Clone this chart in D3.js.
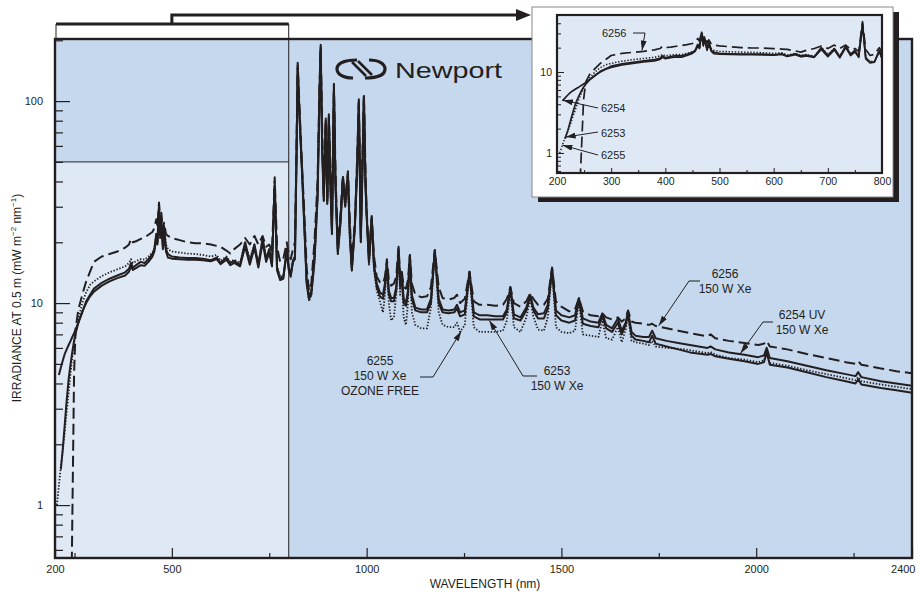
<!DOCTYPE html>
<html>
<head>
<meta charset="utf-8">
<script src="https://cdn.jsdelivr.net/npm/d3@7"></script>
<style>
  body { margin: 0; background: #fff; }
  svg text { font-family: "Liberation Sans", Arial, sans-serif; fill: #231f20; }
</style>
</head>
<body>
<div id="chart"></div>
<script>
// Spectral irradiance (mW m^-2 nm^-1 at 0.5 m)
const wavelengths = [
  205, 210, 215, 220, 225, 230, 235, 240, 243, 246,
  249, 253, 260, 270, 280, 290, 300, 320, 340, 360,
  380, 390, 395, 400, 410, 420, 430, 440, 450, 455,
  460, 463, 467, 470, 473, 477, 480, 485, 490, 500,
  520, 540, 560, 580, 600, 615, 625, 640, 650, 660,
  675, 688, 700, 712, 722, 733, 742, 750, 757, 764,
  770, 778, 786, 795, 800, 805, 811, 816, 820, 823,
  828, 834, 840, 846, 852, 858, 866, 874, 879, 882,
  886, 890, 895, 899, 903, 907, 911, 916, 920, 926,
  933, 939, 945, 952, 957, 962, 970, 976, 980, 985,
  989, 993, 997, 1000, 1006, 1013, 1019, 1026, 1034, 1042,
  1047, 1052, 1057, 1063, 1070, 1076, 1082, 1086, 1090, 1095,
  1101, 1106, 1111, 1116, 1125, 1140, 1155, 1165, 1175, 1185,
  1195, 1210, 1225, 1232, 1240, 1252, 1264, 1275, 1290, 1310,
  1330, 1350, 1360, 1369, 1378, 1395, 1410, 1420, 1428, 1440,
  1455, 1465, 1476, 1486, 1500, 1520, 1535, 1545, 1555, 1575,
  1595, 1605, 1615, 1630, 1645, 1655, 1665, 1671, 1680, 1690,
  1710, 1725, 1733, 1742, 1770, 1800, 1830, 1875, 1883, 1895,
  1930, 1970, 2005, 2020, 2027, 2035, 2080, 2130, 2180, 2230,
  2255, 2262, 2270, 2320, 2360, 2400
];

const lamp6256 = [
  null, null, null, null, null, null, null, 0.3, 0.5, 1.5,
  4.5, 7.5, 9.3, 11.0, 12.8, 14.3, 16.0, 17.0, 17.5, 18.0,
  18.8, 19.5, 20.8, 20.0, 20.3, 20.8, 21.2, 21.8, 22.5, 23.5,
  26, 24, 31.5, 25, 28, 23, 25, 22, 21.5, 21.0,
  20.5, 20.0, 19.8, 19.8, 19.5, 19.2, 19.0, 18.2, 17.6, 18.5,
  19.5, 21.0, 19.5, 21.5, 19.5, 21.5, 19.0, 19.5, 18.0, 42,
  19.0, 16.0, 16.5, 20.0, 17.5, 16.5, 18.5, 20, 60, 155,
  90, 48, 28, 15, 11.5, 12.5, 20, 40, 120, 190,
  70, 35, 82, 33, 86, 45, 24, 122, 45, 19,
  28, 43, 32, 45, 25, 15.5, 26, 55, 102, 22,
  50, 108, 45, 29, 17, 27, 17, 13.5, 12.7, 12.5,
  13.5, 16.5, 13, 12.2, 12.5, 13.5, 19, 13.5, 14.5, 12,
  11.8, 13, 17.3, 12.5, 11, 10.7, 10.8, 12, 18.3, 12,
  10.6, 10.4, 10.6, 11, 10, 10.5, 14.3, 10.2, 9.8, 9.8,
  9.7, 9.8, 10.5, 12.0, 10.0, 9.6, 10.2, 11.2, 10.5, 9.8,
  9.8, 10.5, 15.0, 10.2, 9.6, 9.1, 9.3, 10.6, 9.1, 8.7,
  8.6, 8.9, 8.5, 8.3, 8.5, 8.1, 8.4, 9.2, 8.1, 8.0,
  7.9, 7.8, 7.9, 7.7, 7.5, 7.3, 7.1, 6.85, 7.0, 6.7,
  6.5, 6.35, 6.2, 6.3, 6.5, 6.1, 5.9, 5.6, 5.35, 5.1,
  5.0, 5.15, 4.95, 4.75, 4.6, 4.5
];

const lamp6254 = [
  null, 4.4, 4.8, 5.2, 5.6, 5.9, 6.2, 6.5, 6.7, 6.9,
  7.1, 7.4, 8.0, 9.0, 10.2, 11.0, 11.8, 12.6, 13.2, 13.7,
  14.2, 14.8, 15.8, 15.0, 15.5, 16.0, 15.8, 16.5, 17.5, 18.5,
  22, 20, 31, 22, 26, 19, 24, 18.5, 17.5, 17.0,
  16.8, 16.7, 16.7, 16.6, 16.3, 16.8, 15.8, 16.8, 15.8, 16.2,
  15.4, 20.0, 16.0, 19.5, 15.4, 21.0, 16.5, 18.5, 15.5, 40,
  15.0, 13.2, 13.4, 18.5, 15.0, 13.8, 16.3, 17, 55, 150,
  85, 47, 25, 13, 10.7, 11.5, 17, 35, 110, 185,
  60, 33.5, 80, 32, 84, 40, 23, 120, 40, 18.3,
  26, 42, 32, 44, 22, 14.9, 25, 50, 100, 21,
  45, 106, 40, 28, 16.3, 26.6, 15.5, 12.5, 11.3, 11.0,
  12.5, 15.8, 11.5, 10.6, 10.6, 12, 18.7, 12.5, 14.3, 10.5,
  10, 11.5, 17.3, 11, 9.5, 9.3, 9.3, 10.5, 18.3, 10.5,
  9.3, 9.2, 9.3, 9.8, 9, 9.2, 14.3, 9, 8.7, 8.7,
  8.6, 8.6, 9.3, 12.0, 8.8, 8.5, 9.5, 11.0, 9.5, 8.8,
  8.9, 9.8, 14.9, 9.2, 8.7, 8.5, 8.7, 10.6, 8.4, 8.1,
  8.0, 8.9, 7.8, 7.5, 8.4, 7.3, 8.0, 9.1, 7.2, 6.9,
  6.8, 6.8, 7.3, 6.7, 6.5, 6.35, 6.2, 6.0, 6.1, 5.9,
  5.7, 5.55, 5.4, 5.5, 6.0, 5.35, 5.15, 4.9, 4.65, 4.45,
  4.35, 4.55, 4.3, 4.1, 4.0, 3.9
];

const lamp6253 = [
  null, null, 1.5, 1.9, 2.5, 3.3, 4.2, 5.0, 5.5, 6.0,
  6.5, 7.1, 8.0, 9.1, 10.0, 10.8, 11.4, 12.2, 12.8, 13.3,
  13.7, 14.3, 15.2, 14.6, 15.0, 15.4, 15.3, 16.0, 17.0, 18.0,
  21, 19.5, 30, 21, 25, 18.5, 22, 18, 16.8, 16.6,
  16.5, 16.4, 16.4, 16.3, 16.1, 16.5, 15.6, 16.4, 15.4, 15.8,
  15.2, 19.0, 15.5, 18.8, 15.0, 20.0, 16.0, 17.8, 15.2, 38,
  14.5, 13.0, 13.2, 18.0, 14.6, 13.5, 16.0, 16.5, 52, 145,
  80, 45, 24, 12.5, 10.5, 11, 16, 33, 105, 180,
  55, 32, 78, 31, 82, 38, 22, 115, 38, 17.5,
  25, 40, 30, 42, 21, 14.5, 24, 48, 98, 20,
  43, 104, 38, 27, 15.8, 26, 15, 12, 10.8, 10.5,
  12, 15.5, 11, 10.2, 10.2, 11.5, 18.3, 12, 14, 10,
  9.7, 11, 17, 10.5, 9.2, 9.0, 9.0, 10, 18, 10,
  9.0, 8.9, 9.0, 9.4, 8.6, 8.8, 14, 8.6, 8.3, 8.3,
  8.3, 8.3, 9.0, 11.8, 8.4, 8.2, 9.2, 10.8, 9.2, 8.4,
  8.4, 9.4, 14.6, 8.7, 8.2, 8.0, 8.2, 10.4, 7.9, 7.7,
  7.6, 8.6, 7.5, 7.2, 8.0, 7.0, 7.8, 8.9, 6.9, 6.6,
  6.5, 6.4, 6.9, 6.3, 6.1, 5.9, 5.7, 5.55, 5.6, 5.45,
  5.3, 5.15, 5.0, 5.1, 5.7, 4.95, 4.8, 4.55, 4.3, 4.1,
  4.0, 4.2, 3.95, 3.8, 3.7, 3.6
];

const lamp6255 = [
  1.0, 1.25, 1.55, 1.85, 2.3, 2.9, 3.6, 4.5, 5.1, 5.7,
  6.3, 7.1, 8.4, 10.0, 11.3, 12.3, 12.8, 13.6, 14.2, 14.7,
  15.2, 15.8, 16.5, 15.8, 16.2, 16.5, 16.4, 17.0, 17.8, 18.5,
  22, 20, 29, 22, 25, 20, 23, 19.5, 18.5, 18.0,
  17.8, 17.6, 17.5, 17.3, 17.0, 17.3, 16.2, 17.0, 16.0, 16.4,
  15.8, 20.0, 16.5, 19.5, 15.8, 20.5, 16.8, 18.5, 16.0, 38,
  15.2, 13.5, 13.6, 18.0, 15.2, 14.0, 16.0, 17, 52, 145,
  80, 45, 24, 12.5, 10.2, 11, 16, 33, 105, 180,
  55, 32, 78, 31, 82, 38, 22, 115, 38, 17.5,
  25, 40, 30, 42, 21, 14.5, 24, 48, 98, 20,
  43, 104, 38, 27, 15.5, 25, 14.5, 11.5, 10.2, 9.0,
  11, 15, 10, 8.2, 8.5, 11, 18, 11, 13.5, 8.5,
  7.8, 10, 16.5, 9, 7.8, 7.5, 7.5, 9.5, 17.5, 9,
  7.8, 7.6, 7.6, 8.0, 7.2, 7.8, 14, 7.6, 7.2, 7.2,
  7.2, 7.3, 8.2, 11.5, 7.6, 7.2, 8.5, 10.5, 8.6, 7.4,
  7.3, 8.5, 14.5, 7.6, 7.2, 7.1, 7.3, 10.2, 7.0, 6.9,
  6.8, 8.2, 6.7, 6.6, 7.6, 6.4, 7.4, 8.6, 6.5, 6.4,
  6.3, 6.2, 6.5, 6.1, 6.0, 5.95, 5.85, 5.65, 5.72, 5.55,
  5.35, 5.25, 5.1, 5.2, 5.7, 5.05, 4.9, 4.65, 4.45, 4.25,
  4.15, 4.3, 4.1, 3.95, 3.85, 3.75
];

const seriesNames = ["6256", "6254", "6253", "6255"];
const seriesValues = [lamp6256, lamp6254, lamp6253, lamp6255];

const xTickLabels = [200, 500, 1000, 1500, 2000, 2400];
const xMinorTicks = [250, 750, 1250, 1750, 2250];
const yTickLabels = [1, 10, 100];
const yMinorTicks = [0.6, 0.7, 0.8, 0.9, 2, 3, 4, 5, 6, 7, 8, 9, 20, 30, 40, 50, 60, 70, 80, 90, 200];

const insetXTicks = [200, 300, 400, 500, 600, 700, 800];
const insetXMinor = [250, 350, 450, 550, 650, 750];
const insetYTicks = [1, 10];
const insetYMinor = [0.6, 0.7, 0.8, 0.9, 2, 3, 4, 5, 6, 7, 8, 9, 20, 30, 40];

// zoomed region shown in the inset
const zoomRange = [200, 800];
const zoomTop = 50;

const ink = "#231f20";
const darkBlue = "#c6d8ee";
const lightBlue = "#dfe9f6";
const styles = {
  "6256": { dash: "11,5", width: 2.0 },
  "6254": { dash: null, width: 2.0 },
  "6253": { dash: null, width: 2.0 },
  "6255": { dash: "1.4,1.7", width: 1.8 }
};

const width = 920, height = 598;
const svg = d3.select("#chart").append("svg")
  .attr("width", width)
  .attr("height", height);

const defs = svg.append("defs");
defs.append("marker")
  .attr("id", "tip")
  .attr("viewBox", "0 0 10 6")
  .attr("refX", 10).attr("refY", 3)
  .attr("markerWidth", 10).attr("markerHeight", 6)
  .attr("markerUnits", "userSpaceOnUse")
  .attr("orient", "auto")
  .append("path").attr("d", "M0,0L10,3L0,6Z").attr("fill", ink);

// interpolate a series in log space (matches the drawn line)
function valueAt(vals, nm) {
  const i = d3.bisectLeft(wavelengths, nm);
  if (wavelengths[i] === nm) return vals[i];
  const t = (nm - wavelengths[i - 1]) / (wavelengths[i] - wavelengths[i - 1]);
  return Math.exp(Math.log(vals[i - 1]) * (1 - t) + Math.log(vals[i]) * t);
}

function drawPanel(g, x, y, clipId, scaleW) {
  const [x0, x1] = x.range();
  const [y0, y1] = y.range();
  defs.append("clipPath").attr("id", clipId)
    .append("rect").attr("x", x0).attr("y", y1).attr("width", x1 - x0).attr("height", y0 - y1);
  const lines = g.append("g").attr("clip-path", `url(#${clipId})`);
  seriesNames.forEach((name, k) => {
    const vals = seriesValues[k];
    const line = d3.line()
      .defined(i => vals[i] != null)
      .x(i => x(wavelengths[i]))
      .y(i => y(vals[i]));
    lines.append("path")
      .datum(d3.range(wavelengths.length))
      .attr("fill", "none")
      .attr("stroke", ink)
      .attr("stroke-width", styles[name].width * scaleW)
      .attr("stroke-linejoin", "round")
      .attr("stroke-dasharray", styles[name].dash)
      .attr("d", line);
  });
}

// ---------- main chart ----------
const x = d3.scaleLinear().domain([200, 2400]).range([55, 912]);
const y = d3.scaleLog().domain([0.547, 203]).range([558, 39]);

const main = svg.append("g");
main.append("rect")
  .attr("x", x(200)).attr("y", y.range()[1])
  .attr("width", x(2400) - x(200)).attr("height", y.range()[0] - y.range()[1])
  .attr("fill", darkBlue);
main.append("rect")
  .attr("x", x(zoomRange[0])).attr("y", y(zoomTop))
  .attr("width", x(zoomRange[1]) - x(zoomRange[0])).attr("height", y.range()[0] - y(zoomTop))
  .attr("fill", lightBlue);
main.append("path")
  .attr("d", `M${x(zoomRange[0])},${y(zoomTop)}H${x(zoomRange[1])}V${y.range()[0]}`)
  .attr("fill", "none").attr("stroke", ink).attr("stroke-width", 1);

drawPanel(main, x, y, "clip-main", 1);

// axes
main.append("g").attr("transform", `translate(${x(200)},0)`)
  .call(d3.axisLeft(y).tickValues(yTickLabels).tickFormat(d3.format("d"))
    .tickSizeInner(-15).tickSizeOuter(0).tickPadding(12));
main.append("g").attr("transform", `translate(${x(200)},0)`)
  .call(d3.axisLeft(y).tickValues(yMinorTicks).tickFormat("")
    .tickSizeInner(-8).tickSizeOuter(0));
const xAxis = main.append("g").attr("transform", `translate(0,${y.range()[0]})`)
  .call(d3.axisBottom(x).tickValues(xTickLabels).tickFormat(d3.format("d"))
    .tickSizeInner(-10).tickSizeOuter(0).tickPadding(7));
main.append("g").attr("transform", `translate(0,${y.range()[0]})`)
  .call(d3.axisBottom(x).tickValues(xMinorTicks).tickFormat("")
    .tickSizeInner(-5).tickSizeOuter(0));
main.selectAll(".domain").remove();
main.selectAll(".tick line").attr("stroke", ink).attr("stroke-width", 1.2);
main.selectAll(".tick text").style("font-size", "11px").attr("fill", ink);
xAxis.selectAll(".tick").filter(d => d === 2400).select("text").attr("text-anchor", "end").attr("x", 3);

main.append("rect")
  .attr("x", x(200)).attr("y", y.range()[1])
  .attr("width", x(2400) - x(200)).attr("height", y.range()[0] - y.range()[1])
  .attr("fill", "none").attr("stroke", ink).attr("stroke-width", 2.4);

svg.append("text")
  .attr("x", 485).attr("y", 588)
  .attr("text-anchor", "middle")
  .style("font-size", "12px")
  .text("WAVELENGTH (nm)");

const yTitle = svg.append("text")
  .attr("transform", "translate(21,298) rotate(-90)")
  .attr("text-anchor", "middle")
  .style("font-size", "12px");
yTitle.append("tspan").text("IRRADIANCE AT 0.5 m (mW m");
yTitle.append("tspan").attr("dy", -5).style("font-size", "8px").text("−2");
yTitle.append("tspan").attr("dy", 5).text(" nm");
yTitle.append("tspan").attr("dy", -5).style("font-size", "8px").text("−1");
yTitle.append("tspan").attr("dy", 5).text(")");

// bracket + arrow linking zoomed region to inset
svg.append("path")
  .attr("d", `M${x(zoomRange[0]) + 1},${y.range()[1]}V24H${x(zoomRange[1])}V${y(zoomTop)}`)
  .attr("fill", "none").attr("stroke", ink).attr("stroke-width", 1);
svg.append("path")
  .attr("d", `M${x(zoomRange[0]) + 1},24H${x(zoomRange[1])}`)
  .attr("stroke", ink).attr("stroke-width", 3);
svg.append("path")
  .attr("d", `M${x(500)},25V15H518`)
  .attr("fill", "none").attr("stroke", ink).attr("stroke-width", 3);
svg.append("path")
  .attr("d", "M516,9L531,15L516,21Z").attr("fill", ink);

// Newport logo
const logo = svg.append("g").attr("transform", "translate(361,69)");
logo.append("path")
  .attr("d", "M-4,-9 C-18,-9 -24,-5 -24,0 C-24,5 -18,9 -8,9")
  .attr("fill", "none").attr("stroke", ink).attr("stroke-width", 3.2);
logo.append("path")
  .attr("d", "M4,9 C18,9 24,5 24,0 C24,-5 18,-9 8,-9")
  .attr("fill", "none").attr("stroke", ink).attr("stroke-width", 3.2);
logo.append("path")
  .attr("d", "M-9,-7 L5,7 M-3,-8 L11,6")
  .attr("fill", "none").attr("stroke", ink).attr("stroke-width", 2.6);
svg.append("text")
  .attr("x", 395).attr("y", 78)
  .attr("textLength", 107).attr("lengthAdjust", "spacingAndGlyphs")
  .style("font-size", "22px")
  .text("Newport");

// annotation: leader line with arrow tip and a text block
function leader(g, pts, fontSize, anchor, lines, tx, ty, lh) {
  g.append("polyline")
    .attr("points", pts.map(p => p.join(",")).join(" "))
    .attr("fill", "none").attr("stroke", ink).attr("stroke-width", 1)
    .attr("marker-end", "url(#tip)");
  const t = g.append("text").attr("text-anchor", anchor).style("font-size", fontSize + "px");
  lines.forEach((s, i) => t.append("tspan").attr("x", tx).attr("y", ty + i * lh).attr("dy", "0.35em").text(s));
}
const ann = svg.append("g");
leader(ann, [[700, 281], [689, 281], [x(1750), y(valueAt(lamp6256, 1750)) - 1]], 12, "middle",
  ["6256", "150 W Xe"], 725, 274, 15);
leader(ann, [[773, 322], [763, 322], [x(1960), y(valueAt(lamp6254, 1960)) - 1]], 12, "middle",
  ["6254 UV", "150 W Xe"], 802, 315, 15);
leader(ann, [[420, 377], [433, 377], [x(1243), y(valueAt(lamp6255, 1243)) + 1]], 12, "middle",
  ["6255", "150 W Xe", "OZONE FREE"], 380, 361, 15);
leader(ann, [[537, 376], [523, 376], [x(1315), y(valueAt(lamp6253, 1315)) + 1]], 12, "middle",
  ["6253", "150 W Xe"], 557, 371, 15);

// ---------- inset ----------
const inset = svg.append("g");
inset.append("rect").attr("x", 538).attr("y", 12).attr("width", 361).attr("height", 190).attr("fill", ink);
inset.append("rect").attr("x", 532).attr("y", 7).attr("width", 361).attr("height", 190)
  .attr("fill", "#fff").attr("stroke", "#888").attr("stroke-width", 1);

const xi = d3.scaleLinear().domain(zoomRange).range([557, 882]);
const yi = d3.scaleLog().domain([0.566, 50.6]).range([173, 15]);

inset.append("rect")
  .attr("x", 557).attr("y", 15).attr("width", 325).attr("height", 158)
  .attr("fill", lightBlue);
drawPanel(inset, xi, yi, "clip-inset", 0.85);

inset.append("g").attr("transform", "translate(557,0)")
  .call(d3.axisLeft(yi).tickValues(insetYTicks).tickFormat(d3.format("d"))
    .tickSizeInner(-7).tickSizeOuter(0).tickPadding(5));
inset.append("g").attr("transform", "translate(557,0)")
  .call(d3.axisLeft(yi).tickValues(insetYMinor).tickFormat("")
    .tickSizeInner(-4).tickSizeOuter(0));
inset.append("g").attr("transform", "translate(0,173)")
  .call(d3.axisBottom(xi).tickValues(insetXTicks).tickFormat(d3.format("d"))
    .tickSizeInner(-5).tickSizeOuter(0).tickPadding(5));
inset.append("g").attr("transform", "translate(0,173)")
  .call(d3.axisBottom(xi).tickValues(insetXMinor).tickFormat("")
    .tickSizeInner(-3).tickSizeOuter(0));
inset.selectAll(".domain").remove();
inset.selectAll(".tick line").attr("stroke", ink).attr("stroke-width", 1);
inset.selectAll(".tick text").style("font-size", "10.5px").attr("fill", ink);

inset.append("rect")
  .attr("x", 557).attr("y", 15).attr("width", 325).attr("height", 158)
  .attr("fill", "none").attr("stroke", ink).attr("stroke-width", 2.2);

leader(inset, [[633, 33], [645, 33], [xi(357), yi(valueAt(lamp6256, 357)) - 1]], 11, "start",
  ["6256"], 602, 33, 0);
leader(inset, [[598, 108], [xi(211), yi(valueAt(lamp6254, 211))]], 11, "start",
  ["6254"], 601, 108, 0);
leader(inset, [[598, 132], [xi(216), yi(valueAt(lamp6253, 216))]], 11, "start",
  ["6253"], 601, 133, 0);
leader(inset, [[598, 155], [xi(210), yi(valueAt(lamp6255, 210))]], 11, "start",
  ["6255"], 601, 155, 0);
</script>
</body>
</html>
